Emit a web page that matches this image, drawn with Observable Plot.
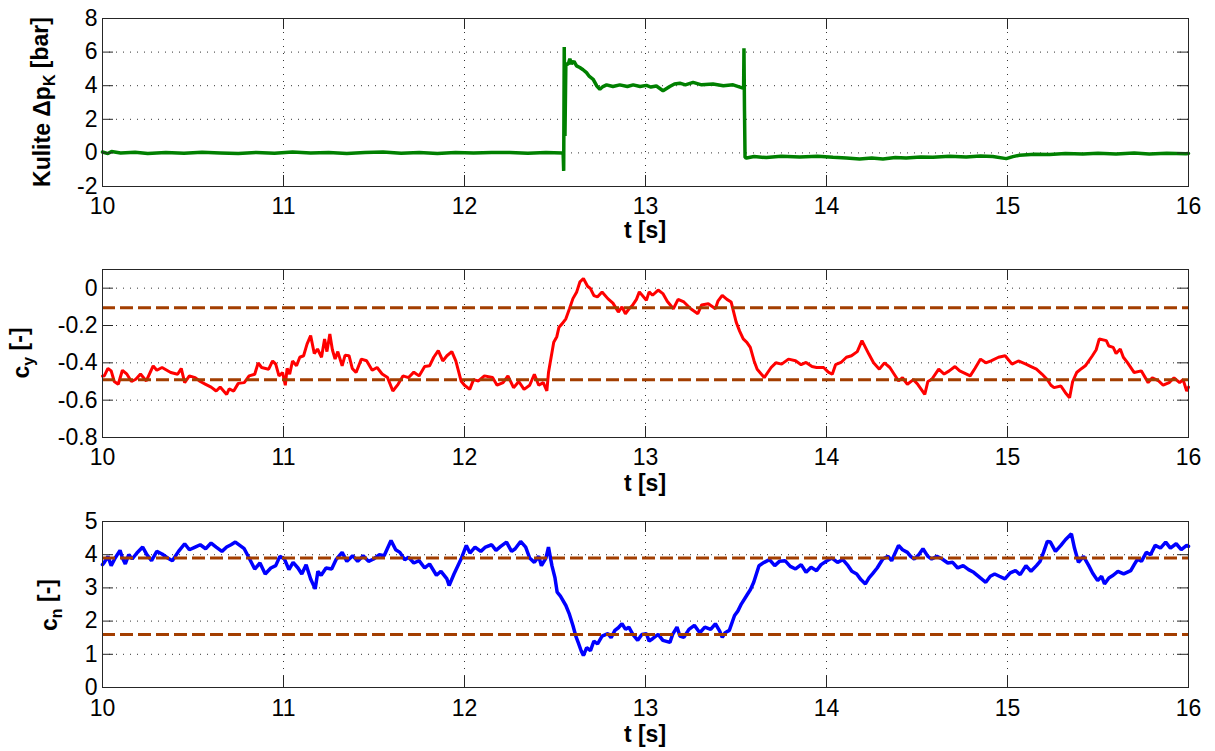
<!DOCTYPE html>
<html><head><meta charset="utf-8">
<script src="https://cdn.jsdelivr.net/npm/d3@7"></script>
<script src="https://cdn.jsdelivr.net/npm/@observablehq/plot@0.6"></script>
<style>
body{margin:0;background:#fff;}
#wrap{position:relative;width:1215px;height:751px;overflow:hidden;background:#fff;}
.panel{position:absolute;left:0;}
</style></head><body><div id="wrap"></div>
<script>
// ---- data ----
const xTicks = [10, 11, 12, 13, 14, 15, 16];
const xGrid = [11, 12, 13, 14, 15];

const kuliteTicks = [-2, 0, 2, 4, 6, 8];
const kuliteGrid = [0, 2, 4, 6];
const kulite = [
  [10.00,0.05],[10.03,-0.04],[10.05,0.08],[10.10,0.0],[10.18,0.04],[10.25,-0.04],[10.35,0.03],[10.45,-0.02],[10.55,0.04],
  [10.65,0.0],[10.75,-0.04],[10.85,0.03],[10.95,-0.02],[11.05,0.05],[11.15,-0.01],[11.25,0.03],[11.35,-0.03],
  [11.45,0.02],[11.55,0.05],[11.65,-0.02],[11.75,0.02],[11.85,-0.03],[11.95,0.03],[12.05,-0.01],[12.15,0.02],
  [12.25,0.03],[12.35,-0.02],[12.45,0.02],[12.54,0.0],[12.545,0.0],[12.548,-1.07],[12.551,6.3],[12.555,1.0],
  [12.56,5.3],[12.573,5.28],[12.582,5.6],[12.591,5.3],[12.605,5.45],[12.619,5.18],[12.637,5.08],[12.655,4.95],[12.674,4.78],
  [12.69,4.55],[12.711,4.38],[12.73,4.0],[12.748,3.79],[12.765,3.95],[12.785,4.05],[12.82,3.95],[12.858,4.05],[12.9,3.95],
  [12.932,4.05],[12.97,3.95],[13.005,4.02],[13.03,3.92],[13.06,3.98],[13.097,3.7],[13.134,3.95],[13.16,4.1],[13.19,4.15],
  [13.22,4.05],[13.263,4.2],[13.31,4.05],[13.373,4.1],[13.43,4.0],[13.484,4.05],[13.53,3.89],[13.542,3.85],
  [13.544,6.23],[13.547,2.5],[13.550,-0.28],
  [13.558,-0.3],[13.6,-0.22],[13.668,-0.28],[13.75,-0.2],[13.852,-0.24],[13.95,-0.2],[14.036,-0.26],[14.11,-0.3],[14.183,-0.36],
  [14.25,-0.3],[14.312,-0.36],[14.38,-0.28],[14.44,-0.3],[14.52,-0.24],[14.588,-0.26],[14.68,-0.2],[14.772,-0.24],[14.85,-0.18],
  [14.919,-0.22],[14.993,-0.34],[15.03,-0.22],[15.066,-0.14],[15.15,-0.08],[15.232,-0.1],[15.32,-0.04],[15.416,-0.07],
  [15.5,-0.02],[15.6,-0.06],[15.7,-0.01],[15.783,-0.06],[15.88,-0.02],[15.986,-0.05],[16.0,-0.03]
];

const cyTicks = [-0.8, -0.6, -0.4, -0.2, 0];
const cyGrid = [-0.6, -0.4, -0.2, 0];
const cyRefs = [-0.105, -0.49];
const cy = [
  [10.0,-0.47],[10.010,-0.47],[10.03,-0.43],[10.048,-0.443],[10.065,-0.50],[10.087,-0.515],[10.11,-0.44],[10.135,-0.461],
  [10.16,-0.50],[10.184,-0.488],[10.21,-0.46],[10.242,-0.497],[10.280,-0.416],[10.30,-0.44],[10.329,-0.425],[10.377,-0.452],
  [10.415,-0.461],[10.435,-0.43],[10.454,-0.506],[10.48,-0.47],[10.512,-0.479],[10.54,-0.50],[10.570,-0.515],
  [10.60,-0.53],[10.628,-0.551],[10.65,-0.53],[10.686,-0.569],[10.70,-0.54],[10.725,-0.551],[10.75,-0.51],[10.783,-0.506],
  [10.81,-0.47],[10.841,-0.461],[10.86,-0.40],[10.879,-0.425],[10.918,-0.434],[10.94,-0.39],
  [10.957,-0.407],[10.975,-0.47],[10.995,-0.452],[11.010,-0.52],[11.02,-0.43],[11.034,-0.461],[11.05,-0.39],[11.072,-0.416],
  [11.09,-0.37],[11.111,-0.362],[11.130,-0.30],[11.150,-0.254],[11.17,-0.35],
  [11.188,-0.326],[11.21,-0.37],[11.227,-0.272],[11.24,-0.34],[11.256,-0.245],[11.27,-0.33],[11.285,-0.380],[11.30,-0.34],
  [11.324,-0.416],[11.34,-0.36],[11.362,-0.362],[11.38,-0.43],[11.401,-0.452],[11.43,-0.38],
  [11.459,-0.389],[11.49,-0.44],[11.517,-0.425],[11.545,-0.46],[11.575,-0.479],[11.604,-0.551],[11.633,-0.515],[11.66,-0.47],
  [11.691,-0.479],[11.72,-0.45],[11.749,-0.470],[11.78,-0.42],
  [11.807,-0.416],[11.83,-0.37],[11.855,-0.335],[11.88,-0.39],[11.903,-0.362],[11.93,-0.34],[11.952,-0.389],[11.981,-0.497],
  [12.00,-0.52],[12.029,-0.542],[12.05,-0.49],[12.077,-0.497],[12.11,-0.47],
  [12.155,-0.479],[12.18,-0.52],[12.213,-0.506],[12.24,-0.47],[12.271,-0.533],[12.30,-0.50],[12.329,-0.542],[12.36,-0.52],
  [12.386,-0.461],[12.41,-0.52],[12.435,-0.506],[12.455,-0.55],
  [12.464,-0.452],[12.493,-0.290],[12.51,-0.26],[12.522,-0.209],[12.54,-0.19],[12.560,-0.164],[12.58,-0.11],[12.599,-0.056],
  [12.62,-0.02],[12.638,0.034],[12.657,0.052],
  [12.68,0.01],[12.696,-0.002],[12.715,-0.04],[12.734,-0.047],[12.76,-0.02],[12.792,-0.056],[12.82,-0.08],[12.850,-0.128],
  [12.87,-0.10],[12.889,-0.137],[12.91,-0.11],[12.928,-0.092],[12.95,-0.06],[12.966,-0.020],
  [13.005,-0.065],[13.02,-0.02],[13.039,-0.038],[13.07,-0.01],[13.096,-0.029],[13.12,-0.07],[13.154,-0.110],[13.18,-0.06],
  [13.212,-0.074],[13.25,-0.11],[13.289,-0.137],[13.31,-0.09],[13.347,-0.083],
  [13.386,-0.110],[13.40,-0.07],[13.424,-0.038],[13.45,-0.06],[13.473,-0.074],[13.501,-0.182],[13.52,-0.23],[13.540,-0.272],
  [13.56,-0.29],[13.579,-0.317],[13.60,-0.39],[13.617,-0.434],
  [13.656,-0.479],[13.694,-0.425],[13.72,-0.40],[13.752,-0.407],[13.79,-0.38],[13.829,-0.389],[13.86,-0.41],[13.887,-0.398],
  [13.92,-0.42],[13.945,-0.425],[13.984,-0.425],
  [14.010,-0.45],[14.032,-0.461],[14.05,-0.41],[14.080,-0.398],[14.11,-0.37],[14.138,-0.362],[14.17,-0.34],[14.196,-0.281],
  [14.234,-0.353],[14.26,-0.40],[14.292,-0.434],[14.32,-0.40],[14.350,-0.425],
  [14.398,-0.497],[14.42,-0.48],[14.447,-0.515],[14.48,-0.49],[14.504,-0.515],[14.543,-0.569],[14.56,-0.50],[14.582,-0.488],
  [14.620,-0.434],[14.65,-0.46],[14.678,-0.443],[14.71,-0.42],
  [14.736,-0.443],[14.794,-0.470],[14.82,-0.43],[14.851,-0.380],[14.88,-0.40],[14.909,-0.389],[14.95,-0.37],[14.987,-0.362],
  [15.025,-0.407],[15.06,-0.39],[15.102,-0.407],[15.13,-0.42],
  [15.160,-0.434],[15.19,-0.46],[15.218,-0.488],[15.24,-0.52],[15.257,-0.533],[15.295,-0.524],[15.32,-0.56],[15.343,-0.587],
  [15.36,-0.50],[15.382,-0.452],[15.41,-0.43],[15.430,-0.416],
  [15.469,-0.362],[15.49,-0.33],[15.507,-0.272],[15.546,-0.281],[15.56,-0.31],[15.584,-0.317],[15.60,-0.35],[15.623,-0.326],
  [15.64,-0.37],[15.662,-0.398],[15.700,-0.452],
  [15.739,-0.443],[15.777,-0.506],[15.80,-0.48],[15.835,-0.497],[15.86,-0.52],[15.893,-0.506],[15.92,-0.48],[15.951,-0.506],
  [15.97,-0.49],[15.990,-0.551],[16.0,-0.53]
];

const cnTicks = [0, 1, 2, 3, 4, 5];
const cnGrid = [1, 2, 3, 4];
const cnRefs = [3.9, 1.6];
const cn = [
  [10.0,3.7],[10.010,3.77],[10.03,3.95],[10.048,3.67],[10.07,3.9],[10.097,4.13],[10.11,3.9],[10.126,3.72],[10.145,4.0],
  [10.164,3.87],[10.19,4.05],[10.222,4.23],[10.245,4.0],[10.271,3.82],[10.30,4.1],
  [10.329,4.02],[10.36,3.9],[10.386,3.82],[10.42,4.1],[10.454,4.33],[10.48,4.15],[10.512,4.23],[10.54,4.3],[10.570,4.18],
  [10.60,4.35],[10.628,4.23],[10.66,4.1],[10.686,4.23],[10.71,4.3],[10.734,4.38],
  [10.783,4.18],[10.81,3.9],[10.841,3.57],[10.87,3.75],[10.899,3.42],[10.93,3.6],[10.957,3.67],[10.98,3.95],[11.005,3.87],
  [11.03,3.55],[11.053,3.77],[11.08,3.6],[11.101,3.42],[11.125,3.7],[11.150,3.27],
  [11.175,2.97],[11.19,3.5],[11.208,3.38],[11.235,3.6],[11.266,3.57],[11.29,3.85],[11.324,4.07],[11.35,3.8],[11.382,3.97],
  [11.41,3.8],[11.440,3.97],[11.47,3.8],[11.498,3.87],[11.53,4.0],[11.556,3.97],
  [11.594,4.43],[11.62,4.15],[11.643,4.07],[11.67,3.85],[11.691,3.92],[11.72,3.75],[11.749,3.82],[11.78,3.6],[11.807,3.72],
  [11.845,3.38],[11.87,3.5],[11.903,3.27],[11.915,3.07],
  [11.942,3.42],[11.981,3.87],[12.010,4.28],[12.03,4.05],[12.058,4.23],[12.09,4.1],[12.116,4.23],[12.15,4.3],[12.174,4.13],
  [12.20,4.25],[12.232,4.38],[12.26,4.1],[12.280,4.18],
  [12.31,4.4],[12.338,4.23],[12.36,3.9],[12.386,3.77],[12.41,3.95],[12.425,3.67],[12.45,3.9],[12.464,4.23],[12.483,3.67],
  [12.50,3.3],[12.512,2.87],[12.53,2.75],[12.560,2.47],[12.58,2.2],[12.599,1.87],
  [12.615,1.55],[12.628,1.36],[12.645,1.1],[12.657,0.96],[12.675,1.2],[12.696,1.11],[12.715,1.4],[12.735,1.31],[12.76,1.55],
  [12.792,1.62],[12.81,1.5],[12.831,1.72],[12.85,1.8],[12.870,1.92],[12.89,1.75],[12.908,1.82],
  [12.93,1.6],[12.957,1.42],[12.98,1.6],[13.005,1.62],[13.02,1.4],[13.039,1.47],[13.07,1.6],[13.096,1.42],[13.135,1.36],
  [13.15,1.6],[13.174,1.82],[13.19,1.55],[13.212,1.51],[13.24,1.75],[13.270,1.87],
  [13.30,1.65],[13.328,1.82],[13.36,1.75],[13.386,1.92],[13.41,1.7],[13.424,1.51],[13.44,1.65],[13.463,1.72],[13.492,2.17],
  [13.51,2.3],[13.530,2.52],[13.559,2.77],[13.58,2.95],[13.598,3.17],
  [13.627,3.67],[13.656,3.77],[13.685,3.85],[13.714,3.67],[13.74,3.8],[13.771,3.82],[13.80,3.65],[13.829,3.57],[13.86,3.7],
  [13.887,3.47],[13.915,3.62],[13.945,3.52],[13.97,3.7],[14.003,3.82],
  [14.03,3.9],[14.061,3.77],[14.09,3.85],[14.119,3.67],[14.14,3.5],[14.167,3.42],[14.19,3.25],[14.215,3.12],[14.235,3.3],
  [14.254,3.42],[14.28,3.6],[14.311,3.87],[14.34,3.95],[14.360,3.82],[14.398,4.28],
  [14.42,4.15],[14.447,4.07],[14.465,3.95],[14.485,3.87],[14.51,4.0],[14.533,4.18],[14.56,3.95],[14.581,3.87],[14.61,3.95],
  [14.639,3.87],[14.67,3.75],[14.697,3.77],[14.725,3.6],[14.755,3.67],[14.785,3.55],[14.813,3.47],
  [14.85,3.3],[14.880,3.17],[14.905,3.35],[14.929,3.42],[14.955,3.35],[14.986,3.27],[15.015,3.45],[15.044,3.52],[15.07,3.4],
  [15.102,3.67],[15.13,3.5],[15.160,3.67],[15.18,3.8],[15.199,4.07],[15.22,4.4],[15.237,4.38],
  [15.265,4.1],[15.295,4.28],[15.32,4.45],[15.353,4.63],[15.37,4.2],[15.392,3.77],[15.42,3.95],[15.449,3.67],[15.47,3.45],
  [15.498,3.22],[15.52,3.35],[15.536,3.12],[15.56,3.3],[15.584,3.38],[15.61,3.5],[15.642,3.42],
  [15.681,3.52],[15.70,3.7],[15.719,3.87],[15.74,3.8],[15.767,4.07],[15.79,4.0],[15.816,4.28],[15.845,4.2],[15.874,4.38],
  [15.90,4.2],[15.932,4.33],[15.96,4.15],[15.990,4.28],[16.0,4.25]
];

// ---- drawing ----
const FONT = "'Liberation Sans', Arial, Helvetica, sans-serif";
const W = 1215, ML = 102, MR = 27;
const fmt = d => String(d);
const refColor = "#A33E00";

function panel(cfg) {
  const plotH = cfg.height - cfg.mt - cfg.mb;
  const plotW = W - ML - MR;
  const marks = [
    Plot.gridX(xGrid, {stroke: "#333", strokeOpacity: 1, strokeWidth: 1, strokeDasharray: "1,6"}),
    Plot.gridY(cfg.grid, {stroke: "#333", strokeOpacity: 1, strokeWidth: 1, strokeDasharray: "1,6"}),
    Plot.line(cfg.data, {x: d => d[0], y: d => d[1], stroke: cfg.color, strokeWidth: cfg.lw, strokeLinejoin: "miter"})
  ];
  if (cfg.refs) {
    marks.push(Plot.ruleY(cfg.refs, {y: d => d, stroke: refColor, strokeWidth: 3, strokeDasharray: "13,5"}));
  }
  marks.push(
    Plot.frame({stroke: "#262626", strokeWidth: 1}),
    Plot.tickX(xTicks, {x: d => d, stroke: "#262626", insetTop: plotH - 11}),
    Plot.tickX(xTicks, {x: d => d, stroke: "#262626", insetBottom: plotH - 11}),
    Plot.tickY(cfg.ticks, {y: d => d, stroke: "#262626", insetRight: plotW - 11}),
    Plot.tickY(cfg.ticks, {y: d => d, stroke: "#262626", insetLeft: plotW - 11}),
    Plot.axisX({ticks: xTicks, tickSize: 0, tickPadding: cfg.xpad, label: null, tickFormat: fmt, fontSize: 23}),
    Plot.axisY({ticks: cfg.ticks, tickSize: 0, tickPadding: 5, label: null, tickFormat: fmt, fontSize: 23})
  );
  const svg = Plot.plot({
    width: W, height: cfg.height,
    marginLeft: ML, marginRight: MR, marginTop: cfg.mt, marginBottom: cfg.mb,
    x: {domain: [10, 16]},
    y: {domain: cfg.domain},
    style: {fontFamily: FONT, fontSize: "23px", color: "#000", background: "transparent", overflow: "visible"},
    marks
  });
  const s = d3.select(svg);
  s.append("text")
    .attr("x", ML + plotW / 2).attr("y", cfg.xlabY)
    .attr("text-anchor", "middle")
    .attr("font-family", FONT).attr("font-size", 23).attr("font-weight", "bold").attr("fill", "#000")
    .text("t [s]");
  const t = s.append("text")
    .attr("transform", `translate(${cfg.ylabX},${cfg.ylabY}) rotate(-90)`)
    .attr("text-anchor", "middle")
    .attr("font-family", FONT).attr("font-size", 23).attr("font-weight", "bold").attr("fill", "#000");
  t.append("tspan").text(cfg.ylab[0]);
  t.append("tspan").attr("dy", "0.3em").attr("font-size", 16).text(cfg.ylab[1]);
  t.append("tspan").attr("dy", "-0.3em").text(cfg.ylab[2]);
  const div = document.createElement("div");
  div.className = "panel";
  div.style.top = cfg.top + "px";
  div.appendChild(svg);
  document.getElementById("wrap").appendChild(div);
}

panel({top: 0, height: 251, mt: 18, mb: 65, data: kulite, color: "#008000", lw: 3.5, xpad: 11,
  domain: [-2, 8], ticks: kuliteTicks, grid: kuliteGrid,
  xlabY: 238, ylabX: 50, ylabY: 102, ylab: ["Kulite \u0394p", "K", " [bar]"]});
panel({top: 251, height: 251, mt: 18, mb: 65, data: cy, color: "#FF0000", lw: 3, xpad: 11,
  domain: [-0.8, 0.1], ticks: cyTicks, grid: cyGrid, refs: cyRefs,
  xlabY: 240, ylabX: 29, ylabY: 102, ylab: ["c", "y", " [-]"]});
panel({top: 502, height: 249, mt: 19, mb: 64, data: cn, color: "#0000FF", lw: 3.5, xpad: 12,
  domain: [0, 5], ticks: cnTicks, grid: cnGrid, refs: cnRefs,
  xlabY: 240, ylabX: 57, ylabY: 103, ylab: ["c", "n", " [-]"]});
</script>
</body></html>
